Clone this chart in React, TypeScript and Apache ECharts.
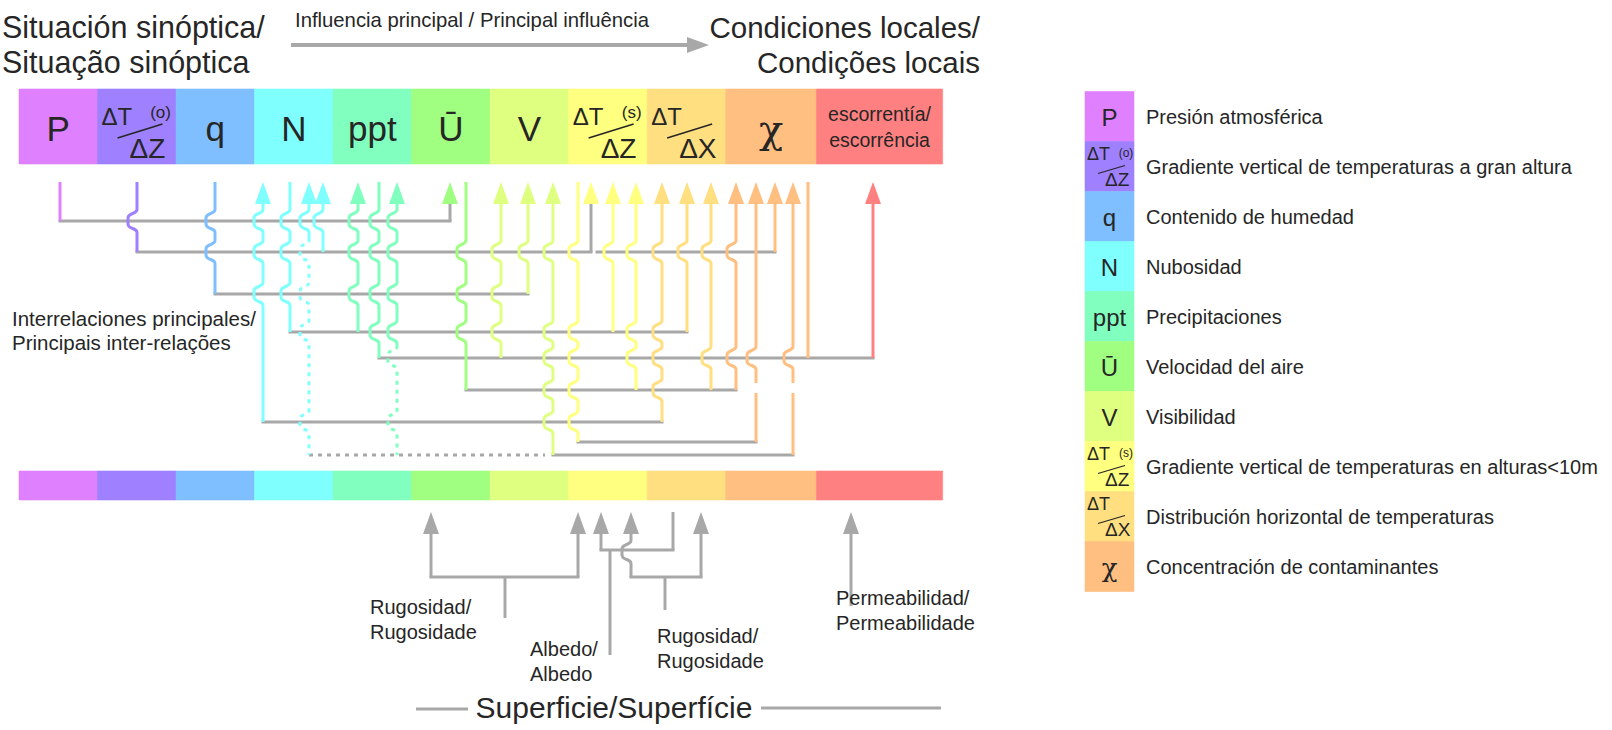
import React, { useEffect, useRef } from 'react';
import * as echarts from 'echarts';

// ---------------- data ----------------
const variableColors = ['#df80ff', '#9f80ff', '#80bfff', '#80ffff', '#80ffbf', '#a0ff80', '#dfff80', '#ffff80', '#ffdf80', '#ffbf80', '#ff8080'];
const columnSpans = [1, 1, 1, 1, 1, 1, 1, 1, 1, 1.156, 1.607];
const simpleSymbols = ['P', '', 'q', 'N', 'ppt', 'Ū', 'V', '', '', 'χ', ''];
const fractionSymbols: Record<number, string[]> = { 1: ['ΔT', '(o)', 'ΔZ'], 7: ['ΔT', '(s)', 'ΔZ'], 8: ['ΔT', '', 'ΔX'] };
const runoffLabel = ['escorrentía/', 'escorrência'];
const legendLabels = [
  'Presión atmosférica',
  'Gradiente vertical de temperaturas a gran altura',
  'Contenido de humedad',
  'Nubosidad',
  'Precipitaciones',
  'Velocidad del aire',
  'Visibilidad',
  'Gradiente vertical de temperaturas en alturas<10m',
  'Distribución horizontal de temperaturas',
  'Concentración de contaminantes',
];

// depth (y) of the grey interrelation connectors
const connectorLevels = [221, 252, 294, 332, 358, 390, 422, 442, 455];
// [level index, x from, x to, dotted]
const connectors = [
  [0, 60, 450, 0],
  [1, 137, 591, 0],
  [1, 597, 775, 0],
  [2, 215, 528, 0],
  [3, 290, 687, 0],
  [4, 379, 873, 0],
  [5, 466, 736, 0],
  [6, 263, 662, 0],
  [7, 578, 756, 0],
  [8, 309, 545, 1],
  [8, 553, 793, 0],
];
// [x, variable index, kind (0 origin, 1 arrow, 2 arrow with grey shaft), end level, crossing hops, dotted from y, gap from y]
const links: any[] = [
  [60, 0, 0, 0, []],
  [137, 1, 0, 1, [0]],
  [215, 2, 0, 2, [0, 1]],
  [263, 3, 1, 6, [0, 1, 2]],
  [290, 3, 0, 3, [0, 1, 2]],
  [309, 3, 1, 8, [0, 1, 2, 3, 6], 238],
  [323, 3, 1, 1, [0]],
  [358, 4, 1, 3, [0, 1, 2]],
  [379, 4, 0, 4, [0, 1, 2, 3]],
  [397, 4, 1, 8, [0, 1, 2, 3, 4, 6], 345],
  [450, 5, 2, 0, []],
  [466, 5, 0, 5, [1, 2, 3]],
  [501, 6, 1, 4, [1, 2, 3]],
  [528, 6, 1, 2, [1]],
  [553, 6, 1, 8, [1, 3, 4, 5, 6]],
  [578, 7, 0, 7, [1, 3, 4, 5, 6]],
  [591, 7, 2, 1, []],
  [613, 7, 1, 3, [1]],
  [636, 7, 1, 5, [1, 3, 4]],
  [662, 8, 1, 6, [1, 3, 4, 5]],
  [687, 8, 1, 3, [1]],
  [711, 8, 1, 5, [1, 4]],
  [736, 9, 1, 5, [1, 4]],
  [756, 9, 1, 7, [4], 0, 383],
  [775, 9, 1, 1, []],
  [793, 9, 1, 8, [4], 0, 383],
  [808, 9, 0, 4, []],
  [873, 10, 1, 4, []],
];

// surface influences (from below): [x, from y, has head, hop y]
const surfaceArrows = [
  [431, 577, 1, 0],
  [578, 577, 1, 0],
  [601, 550, 1, 0],
  [631, 577, 1, 552],
  [673, 550, 0, 0],
  [701, 577, 1, 0],
  [851, 606, 1, 0],
];
// [y, x from, x to]
const surfaceBranches = [
  [577, 431, 578],
  [550, 601, 673],
  [577, 631, 701],
];
// [x, y from, y to]
const surfaceStems = [
  [505, 577, 618],
  [610, 550, 655],
  [665, 577, 610],
];
const surfaceLabels = [
  ['Rugosidad/', 'Rugosidade'],
  ['Albedo/', 'Albedo'],
  ['Rugosidad/', 'Rugosidade'],
  ['Permeabilidad/', 'Permeabilidade'],
];

// ---------------- layout / style ----------------
const W = 1612;
const H = 730;
const FONT = "'Liberation Sans', Arial, Helvetica, sans-serif";
const INK = '#262626';
const GREY = '#a8a8a8';
const BAR_LEFT = 19;
const COL_W = 78.52;
const TOP_BAR = [89, 164];
const BOTTOM_BAR = [471, 500];
const TIP_Y = 182;
const HEAD_H = 22;
const HEAD_W = 8;
const SURF_TIP = 512;
const GAP = 10;
const LEG_X = 1085;
const LEG_W = 49;
const LEG_TOP = 91.5;
const LEG_ROW = 50;

const colEdges: number[] = [];
{
  let acc = BAR_LEFT;
  columnSpans.forEach((s) => {
    colEdges.push(acc);
    acc += s * COL_W;
  });
  colEdges.push(acc);
}

function verticalPath(pt: (x: number, y: number) => number[], x: number, y0: number, y1: number, hops: number[], up = false) {
  const HH = 11.5;
  const HW = 9;
  const s = pt(x, y0);
  let d = `M${s[0]},${s[1]}`;
  const list = hops.filter((h) => h > Math.min(y0, y1) + 2 && h < Math.max(y0, y1) - 2).sort((a, b) => a - b);
  if (up) list.reverse();
  const dir = up ? -1 : 1;
  for (const yl of list) {
    const a = pt(x, yl - dir * HH);
    const c1 = pt(x, yl - dir * (HH - 5));
    const c2 = pt(x - HW, yl - dir * (HH - 3));
    const b = pt(x - HW, yl - dir * 3);
    const b2 = pt(x - HW, yl + dir * 3);
    const c3 = pt(x - HW, yl + dir * (HH - 3));
    const c4 = pt(x, yl + dir * (HH - 5));
    const e = pt(x, yl + dir * HH);
    d += ` L${a[0]},${a[1]} C${c1[0]},${c1[1]} ${c2[0]},${c2[1]} ${b[0]},${b[1]} L${b2[0]},${b2[1]} C${c3[0]},${c3[1]} ${c4[0]},${c4[1]} ${e[0]},${e[1]}`;
  }
  const en = pt(x, y1);
  d += ` L${en[0]},${en[1]}`;
  return d;
}

function txt(text: string, x: number, y: number, size: number, align = 'left', extra: any = {}) {
  return {
    type: 'text',
    x,
    y,
    z: 100,
    silent: true,
    style: {
      text,
      fill: INK,
      fontSize: size,
      fontFamily: FONT,
      textAlign: align,
      textVerticalAlign: 'middle',
      ...extra,
    },
  };
}

function fraction(parts: string[], L: number, top: number, big: boolean) {
  const els: any[] = [];
  if (big) {
    els.push(txt(parts[0], L + 4, top + 27, 24));
    if (parts[1]) els.push(txt(parts[1], L + 63, top + 23, 17, 'center'));
    els.push({ type: 'line', z: 100, silent: true, shape: { x1: L + 20, y1: top + 49, x2: L + 65, y2: top + 35 }, style: { stroke: INK, lineWidth: 1.6 } });
    els.push(txt(parts[2], L + 32, top + 59, 28));
  } else {
    els.push(txt(parts[0], L + 2, top + 12, 18));
    if (parts[1]) els.push(txt(parts[1], L + 41, top + 11, 12, 'center'));
    els.push({ type: 'line', z: 100, silent: true, shape: { x1: L + 13, y1: top + 32, x2: L + 40, y2: top + 24 }, style: { stroke: INK, lineWidth: 1.2 } });
    els.push(txt(parts[2], L + 20, top + 38, 19));
  }
  return els;
}

function buildOption() {
  // colour blocks: [x0, x1, y0, y1, colour index]
  const blocks: number[][] = [];
  for (let i = 0; i < columnSpans.length; i++) {
    blocks.push([colEdges[i], colEdges[i + 1], TOP_BAR[0], TOP_BAR[1], i]);
    blocks.push([colEdges[i], colEdges[i + 1], BOTTOM_BAR[0], BOTTOM_BAR[1], i]);
  }
  for (let k = 0; k < legendLabels.length; k++) {
    blocks.push([LEG_X, LEG_X + LEG_W, LEG_TOP + k * LEG_ROW, LEG_TOP + (k + 1) * LEG_ROW, k]);
  }

  const graphics: any[] = [];
  // titles
  graphics.push(txt('Situación sinóptica/', 2, 27, 30.5));
  graphics.push(txt('Situação sinóptica', 2, 62, 30.5));
  graphics.push(txt('Condiciones locales/', 980, 27, 29.5, 'right'));
  graphics.push(txt('Condições locais', 980, 62, 29.5, 'right'));
  graphics.push(txt('Influencia principal / Principal influência', 295, 20, 20.3));
  graphics.push({ type: 'line', z: 100, silent: true, shape: { x1: 291, y1: 45, x2: 690, y2: 45 }, style: { stroke: GREY, lineWidth: 4 } });
  graphics.push({ type: 'polygon', z: 100, silent: true, shape: { points: [[709, 45], [687, 37], [687, 53]] }, style: { fill: GREY } });

  // symbols on the top bar
  const barMid = (TOP_BAR[0] + TOP_BAR[1]) / 2;
  for (let i = 0; i < columnSpans.length; i++) {
    const cx = (colEdges[i] + colEdges[i + 1]) / 2;
    if (simpleSymbols[i]) {
      const isChi = simpleSymbols[i] === 'χ';
      graphics.push(txt(simpleSymbols[i], cx, barMid + 2, isChi ? 40 : 35, 'center', isChi ? { fontFamily: "'DejaVu Serif', serif" } : {}));
    } else if (fractionSymbols[i]) {
      graphics.push(...fraction(fractionSymbols[i], colEdges[i], TOP_BAR[0], true));
    } else {
      graphics.push(txt(runoffLabel[0], cx, 114, 19.5, 'center'));
      graphics.push(txt(runoffLabel[1], cx, 140, 19.5, 'center'));
    }
  }

  // legend
  for (let k = 0; k < legendLabels.length; k++) {
    const top = LEG_TOP + k * LEG_ROW;
    if (simpleSymbols[k]) {
      const isChi = simpleSymbols[k] === 'χ';
      graphics.push(txt(simpleSymbols[k], LEG_X + LEG_W / 2, top + 26, isChi ? 26 : 24, 'center', isChi ? { fontFamily: "'DejaVu Serif', serif" } : {}));
    } else if (fractionSymbols[k]) {
      graphics.push(...fraction(fractionSymbols[k], LEG_X, top, false));
    }
    graphics.push(txt(legendLabels[k], 1146, top + LEG_ROW / 2, 20));
  }

  // side label
  graphics.push(txt('Interrelaciones principales/', 12, 318, 20.5));
  graphics.push(txt('Principais inter-relações', 12, 342, 20.5));

  // surface labels
  const surfPos = [
    [370, 607],
    [530, 649],
    [657, 636],
    [836, 598],
  ];
  surfaceLabels.forEach((lines, i) => {
    graphics.push(txt(lines[0], surfPos[i][0], surfPos[i][1], 20));
    graphics.push(txt(lines[1], surfPos[i][0], surfPos[i][1] + 25, 20));
  });
  graphics.push(txt('Superficie/Superfície', 614, 707, 30, 'center'));
  graphics.push({ type: 'line', z: 100, silent: true, shape: { x1: 416, y1: 709, x2: 468, y2: 709 }, style: { stroke: GREY, lineWidth: 3 } });
  graphics.push({ type: 'line', z: 100, silent: true, shape: { x1: 761, y1: 708, x2: 941, y2: 708 }, style: { stroke: GREY, lineWidth: 3 } });

  return {
    animation: false,
    backgroundColor: '#ffffff',
    grid: { left: 0, right: 0, top: 0, bottom: 0, containLabel: false },
    xAxis: { type: 'value', min: 0, max: W, show: false },
    yAxis: { type: 'value', min: 0, max: H, inverse: true, show: false },
    tooltip: { show: false },
    series: [
      {
        type: 'custom',
        name: 'blocks',
        silent: true,
        z: 1,
        data: blocks,
        renderItem: (params: any, api: any) => {
          const p0 = api.coord([api.value(0), api.value(2)]);
          const p1 = api.coord([api.value(1), api.value(3)]);
          const c = variableColors[api.value(4)];
          return {
            type: 'rect',
            shape: { x: p0[0], y: p0[1], width: p1[0] - p0[0], height: p1[1] - p0[1] },
            style: { fill: c, stroke: c, lineWidth: 0.6 },
          };
        },
      },
      {
        type: 'custom',
        name: 'connectors',
        silent: true,
        z: 2,
        data: connectors.map((c) => [c[1], connectorLevels[c[0]], c[2], c[3]]),
        renderItem: (params: any, api: any) => {
          const y = api.value(1);
          const a = api.coord([api.value(0), y]);
          const b = api.coord([api.value(2), y]);
          const dotted = api.value(3) === 1;
          const style: any = { stroke: GREY, lineWidth: 3, lineCap: dotted ? 'butt' : 'square' };
          if (dotted) style.lineDash = [4, 5];
          return { type: 'line', shape: { x1: a[0], y1: a[1], x2: b[0], y2: b[1] }, style };
        },
      },
      {
        type: 'custom',
        name: 'links',
        silent: true,
        z: 3,
        data: links.map((l) => [l[0], connectorLevels[l[3]]]),
        renderItem: (params: any, api: any) => {
          const l = links[params.dataIndex];
          const x = l[0];
          const color = variableColors[l[1]];
          const kind = l[2];
          const yEnd = connectorLevels[l[3]];
          const hopYs = (l[4] as number[]).map((h) => connectorLevels[h]);
          const dottedFrom = l[5];
          const gapFrom = l[6];
          const pt = (px: number, py: number) => api.coord([px, py]);
          const yStart = kind === 0 ? TIP_Y : TIP_Y + HEAD_H - 2;
          const segs: any[] = [];
          if (dottedFrom) {
            segs.push([yStart, dottedFrom, false], [dottedFrom, yEnd, true]);
          } else if (gapFrom) {
            segs.push([yStart, gapFrom, false], [gapFrom + GAP, yEnd, false]);
          } else {
            segs.push([yStart, yEnd, false]);
          }
          const children: any[] = segs.map(([a, b, dot]) => {
            const style: any = { fill: 'none', stroke: kind === 2 ? GREY : color, lineWidth: 3 };
            if (dot) style.lineDash = [4, 5];
            return { type: 'path', shape: { pathData: verticalPath(pt, x, a, b, hopYs) }, style };
          });
          if (kind !== 0) {
            children.push({
              type: 'polygon',
              shape: { points: [pt(x, TIP_Y), pt(x + HEAD_W, TIP_Y + HEAD_H), pt(x - HEAD_W, TIP_Y + HEAD_H)] },
              style: { fill: color },
            });
          }
          return { type: 'group', children };
        },
      },
      {
        type: 'custom',
        name: 'surface',
        silent: true,
        z: 3,
        data: [0],
        renderItem: (params: any, api: any) => {
          const pt = (px: number, py: number) => api.coord([px, py]);
          const children: any[] = [];
          surfaceBranches.forEach(([y, x1, x2]) => {
            const a = pt(x1, y);
            const b = pt(x2, y);
            children.push({ type: 'line', shape: { x1: a[0], y1: a[1], x2: b[0], y2: b[1] }, style: { stroke: GREY, lineWidth: 3, lineCap: 'square' } });
          });
          surfaceStems.forEach(([x, y1, y2]) => {
            const a = pt(x, y1);
            const b = pt(x, y2);
            children.push({ type: 'line', shape: { x1: a[0], y1: a[1], x2: b[0], y2: b[1] }, style: { stroke: GREY, lineWidth: 3 } });
          });
          surfaceArrows.forEach(([x, fromY, head, hop]) => {
            const topY = head ? SURF_TIP + HEAD_H - 2 : SURF_TIP;
            children.push({
              type: 'path',
              shape: { pathData: verticalPath(pt, x, fromY, topY, hop ? [hop] : [], true) },
              style: { fill: 'none', stroke: GREY, lineWidth: 3 },
            });
            if (head) {
              children.push({
                type: 'polygon',
                shape: { points: [pt(x, SURF_TIP), pt(x + HEAD_W, SURF_TIP + HEAD_H), pt(x - HEAD_W, SURF_TIP + HEAD_H)] },
                style: { fill: GREY },
              });
            }
          });
          return { type: 'group', children };
        },
      },
    ],
    graphic: { elements: graphics },
  };
}

export default function App() {
  const ref = useRef<HTMLDivElement>(null);
  useEffect(() => {
    document.body.style.margin = '0';
    if (!ref.current) return;
    const chart = echarts.init(ref.current, null, { renderer: 'svg' });
    chart.setOption(buildOption() as any);
    return () => {
      chart.dispose();
    };
  }, []);
  return (
    <div style={{ position: 'fixed', left: 0, top: 0, width: W, height: H, background: '#ffffff' }}>
      <div ref={ref} style={{ width: W, height: H }} />
    </div>
  );
}
